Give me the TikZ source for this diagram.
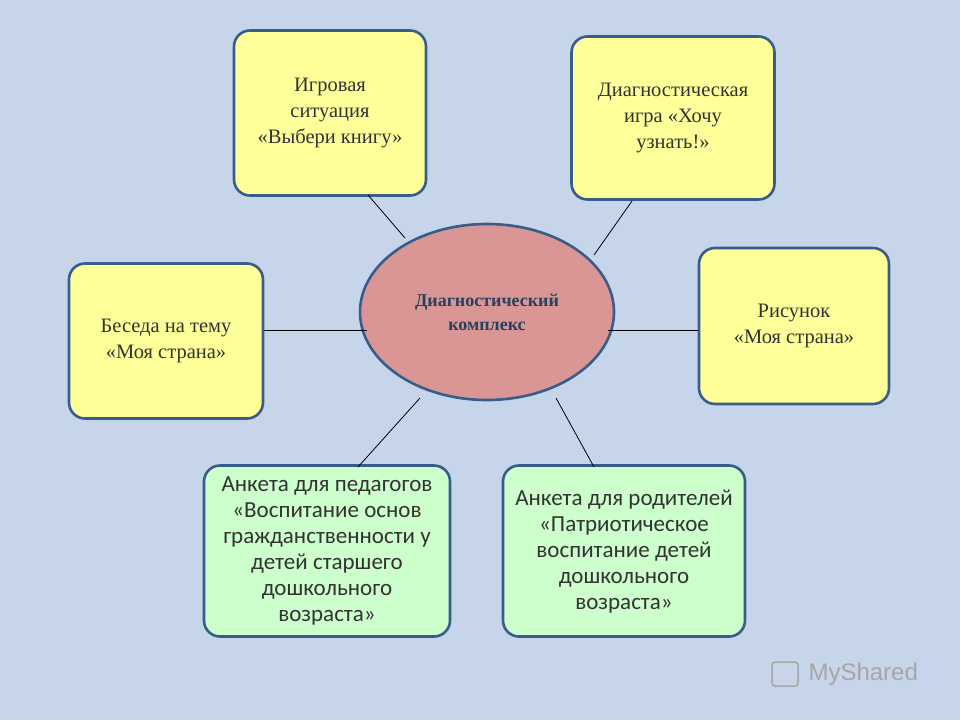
\documentclass[tikz,border=0pt]{standalone}
\usepackage{fontspec}
\setmainfont{Liberation Serif}
\newfontfamily\carlitofont{Carlito}
\newfontfamily\lsansfont{Liberation Sans}
\usetikzlibrary{shapes.geometric}
\definecolor{bg}{HTML}{C6D5EA}
\definecolor{yel}{HTML}{FFFF99}
\definecolor{grn}{HTML}{CCFFCC}
\definecolor{bord}{HTML}{385D8A}
\definecolor{ell}{HTML}{D99694}
\tikzset{
 box/.style={draw=bord,line width=2.6pt,rounded corners=16pt,align=center,inner sep=0pt},
 ybox/.style={box,fill=yel,font=\fontsize{20.5}{26}\selectfont,text=black!80},
 gbox/.style={box,fill=grn},
 gtext/.style={align=center,font=\carlitofont\fontsize{23}{26}\selectfont,text=black!80},
 conn/.style={draw=black,line width=0.8pt}
}
\begin{document}
\begin{tikzpicture}[x=1pt,y=-1pt]
\fill[bg] (0,0) rectangle (960,720);
\node[ybox,minimum width=192pt,minimum height=165pt] (b1) at (330,113) {Игровая\\ситуация\\«Выбери книгу»};
\node[ybox,minimum width=203pt,minimum height=163pt] (b2) at (673,118) {Диагностическая\\игра «Хочу\\узнать!»};
\node[ybox,minimum width=194pt,minimum height=155pt] (b3) at (166,341) {Беседа на тему\\«Моя страна»};
\node[ybox,minimum width=190pt,minimum height=156pt] (b4) at (794,326) {Рисунок\\«Моя страна»};
\node[gbox,minimum width=246pt,minimum height=171pt] (b5) at (327,551) {};
\node[gtext] (t5) at (327,551) {Анкета для педагогов\\«Воспитание основ\\гражданственности у\\детей старшего\\дошкольного\\возраста»};
\node[gbox,minimum width=242pt,minimum height=171pt] (b6) at (624,551) {};
\node[gtext] (t6) at (624,552) {Анкета для родителей\\«Патриотическое\\воспитание детей\\дошкольного\\возраста»};
\node[ellipse,draw=bord,line width=2.6pt,fill=ell,minimum width=254pt,minimum height=176pt,align=center,
 text=bord!70!black,font=\bfseries\fontsize{18}{24}\selectfont] (c) at (487,312) {Диагностический\\комплекс};
\coordinate (p1) at (368,195); \coordinate (q1) at (405,238);
\coordinate (p2) at (632,201); \coordinate (q2) at (594,255);
\coordinate (p3) at (264,330); \coordinate (q3) at (367,330);
\coordinate (p4) at (698,330); \coordinate (q4) at (608,330);
\coordinate (p5) at (358,467); \coordinate (q5) at (420,398);
\coordinate (p6) at (594,467); \coordinate (q6) at (556,398);
\foreach \i in {1,...,6} \draw[conn] (p\i) -- (q\i);
\node[text=gray!70,font=\lsansfont\fontsize{24}{24}\selectfont,anchor=west] (wm) at (805,674) {MyShared};
\node[draw=gray!70,line width=1.5pt,minimum width=26pt,minimum height=24pt,rounded corners=3pt] (logo) at (785,674) {};
\end{tikzpicture}
\end{document}
